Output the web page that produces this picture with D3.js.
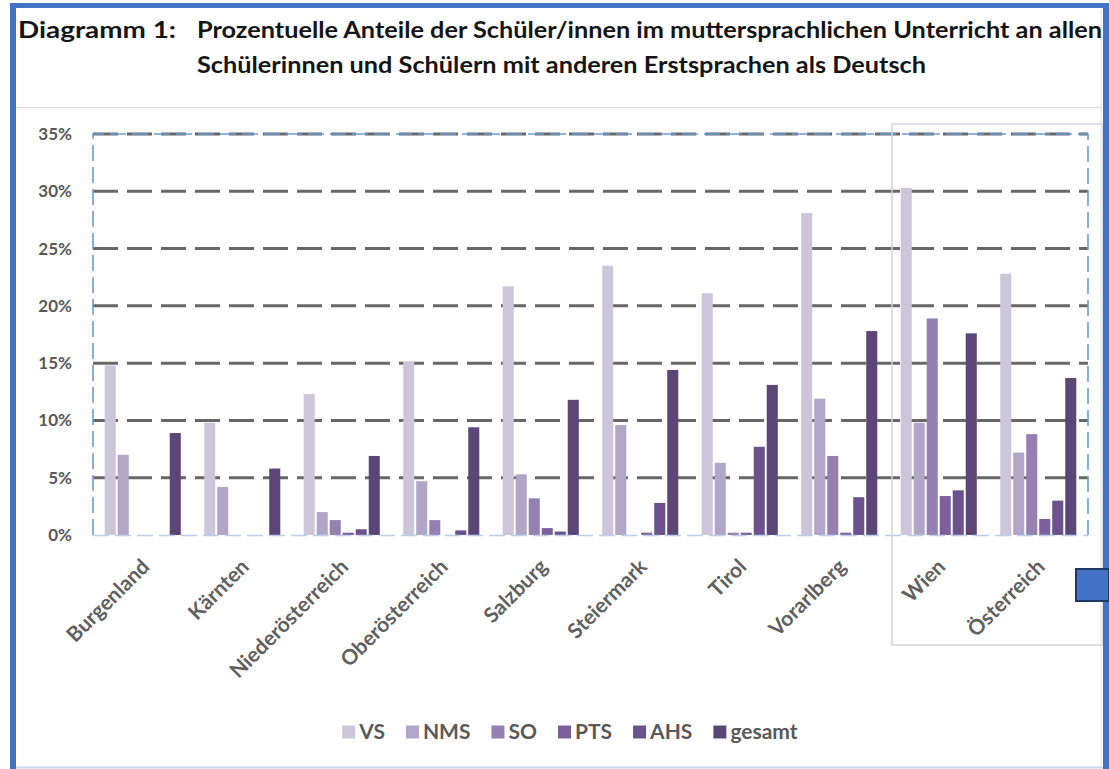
<!DOCTYPE html>
<html>
<head>
<meta charset="utf-8">
<script src="https://cdn.jsdelivr.net/npm/d3@7"></script>
<style>
  body { margin: 0; background: #fff; }
  text { font-family: Lato, "Open Sans", sans-serif; }
</style>
</head>
<body>
<div id="chart"></div>
<script>
// data (percent)
var categories = ["Burgenland", "Kärnten", "Niederösterreich", "Oberösterreich", "Salzburg",
                  "Steiermark", "Tirol", "Vorarlberg", "Wien", "Österreich"];
var series = ["VS", "NMS", "SO", "PTS", "AHS", "gesamt"];
var valVS     = [14.8, 9.8, 12.3, 15.1, 21.7, 23.5, 21.1, 28.1, 30.3, 22.8];
var valNMS    = [7.0, 4.2, 2.0, 4.7, 5.3, 9.6, 6.3, 11.9, 9.8, 7.2];
var valSO     = [0, 0, 1.3, 1.3, 3.2, 0, 0.2, 6.9, 18.9, 8.8];
var valPTS    = [0, 0, 0.2, 0, 0.6, 0.2, 0.2, 0.2, 3.4, 1.4];
var valAHS    = [0, 0, 0.5, 0.4, 0.3, 2.8, 7.7, 3.3, 3.9, 3.0];
var valGesamt = [8.9, 5.8, 6.9, 9.4, 11.8, 14.4, 13.1, 17.8, 17.6, 13.7];
var yTicks = [0, 5, 10, 15, 20, 25, 30, 35];
var titleLabel = "Diagramm 1:";
var titleLines = ["Prozentuelle Anteile der Schüler/innen im muttersprachlichen Unterricht an allen",
                  "Schülerinnen und Schülern mit anderen Erstsprachen als Deutsch"];

var colors = ["#cdc6da", "#b1a6c7", "#9480b1", "#7e5f9e", "#6c528d", "#5c4677"];
var allVals = [valVS, valNMS, valSO, valPTS, valAHS, valGesamt];

var data = categories.map(function(c, i) {
  return { cat: c, vals: series.map(function(s, j) { return { key: s, v: allVals[j][i] }; }) };
});

var W = 1109, H = 769;
var plot = { left: 93, right: 1088, top: 134, bottom: 535 };

var svg = d3.select("#chart")
  .append("svg")
    .attr("width", W)
    .attr("height", H);

// frame of the screenshot
svg.append("line").attr("x1", 16).attr("x2", 1102).attr("y1", 107.5).attr("y2", 107.5)
  .attr("stroke", "#e2e2e2").attr("stroke-width", 1.5);
svg.append("line").attr("x1", 1101).attr("x2", 1101).attr("y1", 9).attr("y2", 767)
  .attr("stroke", "#e2e2e2").attr("stroke-width", 1);

// title
var title = svg.append("g").attr("fill", "#151515").style("font-weight", "bold").style("font-size", "22px");
title.append("text").attr("x", 18).attr("y", 38).attr("textLength", 158).attr("lengthAdjust", "spacingAndGlyphs").text(titleLabel);
title.append("text").attr("x", 197).attr("y", 38).attr("textLength", 905).attr("lengthAdjust", "spacingAndGlyphs").text(titleLines[0]);
title.append("text").attr("x", 197).attr("y", 73).attr("textLength", 729).attr("lengthAdjust", "spacingAndGlyphs").text(titleLines[1]);

// scales
var x0 = d3.scaleBand()
  .domain(categories)
  .range([plot.left, plot.right]);

var x1 = d3.scaleBand()
  .domain(series)
  .range([0, x0.bandwidth()])
  .paddingInner(0.15)
  .paddingOuter(0.9);

var y = d3.scaleLinear()
  .domain([0, 35])
  .range([plot.bottom, plot.top]);

// gridlines
svg.append("g")
  .selectAll("line")
  .data(yTicks.filter(function(d) { return d > 0; }))
  .enter()
  .append("line")
    .attr("x1", plot.left)
    .attr("x2", plot.right)
    .attr("y1", function(d) { return y(d); })
    .attr("y2", function(d) { return y(d); })
    .attr("stroke", "#676767")
    .attr("stroke-width", 3)
    .attr("stroke-dasharray", "25,9");

// y axis labels
var yAxis = svg.append("g")
  .attr("transform", "translate(" + plot.left + ",0)")
  .call(d3.axisLeft(y).tickValues(yTicks).tickSize(0).tickPadding(21)
    .tickFormat(function(d) { return d + "%"; }));
yAxis.select(".domain").remove();
yAxis.selectAll("text")
  .attr("fill", "#595959")
  .style("font-size", "17px")
  .style("font-weight", "bold")
  .style("font-family", "Lato, sans-serif");

// bars
var groups = svg.append("g")
  .selectAll("g")
  .data(data)
  .enter()
  .append("g")
    .attr("transform", function(d) { return "translate(" + x0(d.cat) + ",0)"; });

groups.selectAll("rect")
  .data(function(d) { return d.vals; })
  .enter()
  .append("rect")
    .attr("x", function(d) { return x1(d.key); })
    .attr("y", function(d) { return y(d.v); })
    .attr("width", x1.bandwidth())
    .attr("height", function(d) { return y(0) - y(d.v); })
    .attr("fill", function(d, i) { return colors[i]; });

// dashed blue plot border
svg.append("path")
  .attr("d", "M" + plot.left + "," + plot.bottom + "V" + plot.top + "H" + plot.right + "V" + plot.bottom)
  .attr("fill", "none")
  .attr("stroke", "#6f9ad3")
  .attr("stroke-width", 1.6)
  .attr("stroke-dasharray", "16,6");
svg.append("line")
  .attr("x1", plot.left).attr("x2", plot.right)
  .attr("y1", plot.bottom + 0.5).attr("y2", plot.bottom + 0.5)
  .attr("stroke", "#bccfe9")
  .attr("stroke-width", 1.6)
  .attr("stroke-dasharray", "16,6");

// x axis labels, rotated
var xAxis = svg.append("g")
  .attr("transform", "translate(0," + plot.bottom + ")")
  .call(d3.axisBottom(x0).tickSize(0));
xAxis.select(".domain").remove();
xAxis.selectAll("text")
  .attr("fill", "#606060")
  .attr("y", 0)
  .attr("dy", 0)
  .attr("transform", "translate(8,33) rotate(-45)")
  .style("text-anchor", "end")
  .style("font-size", "21px")
  .style("font-weight", "bold")
  .style("font-family", "Lato, sans-serif");

// grey selection box around Wien / Österreich
svg.append("rect")
  .attr("x", x0("Wien") + 3)
  .attr("y", 124)
  .attr("width", 211)
  .attr("height", 521)
  .attr("fill", "none")
  .attr("stroke", "#d4d4da")
  .attr("stroke-width", 1.5);

// legend
var legend = svg.append("g").attr("transform", "translate(0,732)");
var items = legend.selectAll("g")
  .data(series)
  .enter()
  .append("g");
items.append("rect")
  .attr("y", -6.5)
  .attr("width", 13)
  .attr("height", 13)
  .attr("fill", function(d, i) { return colors[i]; });
items.append("text")
  .attr("x", 17)
  .attr("dy", "0.35em")
  .attr("fill", "#595959")
  .style("font-size", "21px")
  .style("font-weight", "bold")
  .text(function(d) { return d; });
var pos = 0, widths = [];
items.each(function() { widths.push(this.getBBox().width); });
var total = d3.sum(widths) + 21 * (widths.length - 1);
pos = 570 - total / 2;
items.attr("transform", function(d, i) {
  var t = "translate(" + pos + ",0)";
  pos += widths[i] + 21;
  return t;
});

// blue border of the screenshot
svg.append("rect").attr("x", 10).attr("y", 3).attr("width", W - 10).attr("height", 5).attr("fill", "#4472c4");
svg.append("rect").attr("x", 10).attr("y", 3).attr("width", 6).attr("height", H - 3).attr("fill", "#4472c4");
svg.append("rect").attr("x", 1103).attr("y", 3).attr("width", 6).attr("height", H - 3).attr("fill", "#4472c4");
svg.append("line").attr("x1", 16).attr("x2", 1103).attr("y1", 767.5).attr("y2", 767.5)
  .attr("stroke", "#c8d6ee").attr("stroke-width", 2);
svg.append("rect").attr("x", 1076).attr("y", 569).attr("width", 33).attr("height", 32)
  .attr("fill", "#4472c4").attr("stroke", "#1f3763").attr("stroke-width", 2);
</script>
</body>
</html>
